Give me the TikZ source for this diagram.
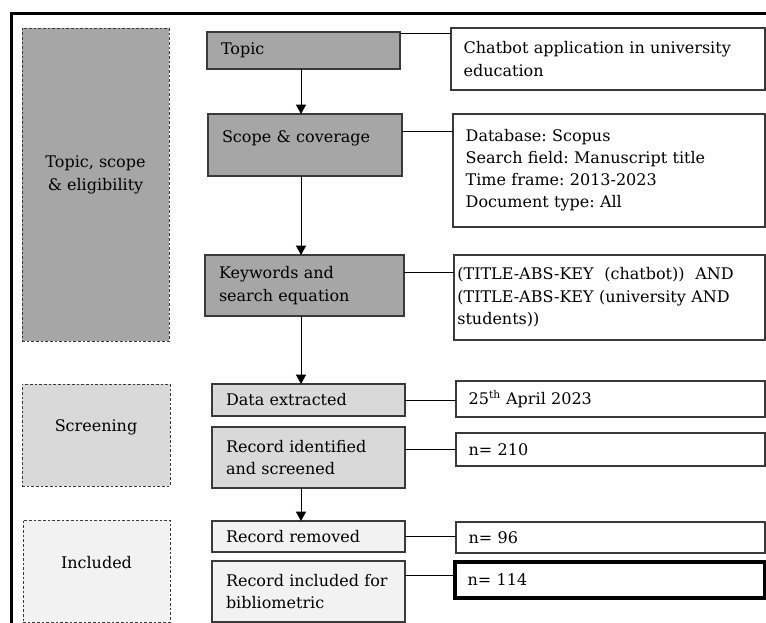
\documentclass[tikz,border=0pt]{standalone}
\usepackage{fontspec}
\setmainfont{DejaVu Serif}
\usetikzlibrary{arrows.meta,calc}
\definecolor{gA}{HTML}{A6A6A6}
\definecolor{gB}{HTML}{D9D9D9}
\definecolor{gC}{HTML}{F2F2F2}
\definecolor{edge}{HTML}{3A3A3A}
\frenchspacing
\newcommand\Pbx[7]{\node[#6, anchor=north west, minimum width={(#4-#2)*0.75pt}, minimum height={(#5-#3)*0.75pt}, text width={(#4-#2)*0.75pt-2*\pgfkeysvalueof{/pgf/inner xsep}}] (#1) at (#2,#3) {#7};}
\begin{document}
\begin{tikzpicture}[x=0.75pt,y=-0.75pt,
  every node/.style={font=\fontsize{12}{17}\selectfont\frenchspacing, outer sep=0pt},
  side/.style={draw=edge, line width=0.7pt, dash pattern=on 2pt off 1.5pt, inner sep=0pt},
  stage/.style={draw=edge, line width=0.8pt, inner xsep=10.5pt, inner ysep=0pt, align=left},
  info/.style={draw=edge, fill=white, line width=0.8pt, inner xsep=9.5pt, inner ysep=0pt, align=left},
  lbl/.style={align=center, inner sep=0pt},
  conn/.style={draw=black, line width=0.65pt},
  arr/.style={draw=black, line width=0.65pt, -{Triangle[length=7pt,width=7.5pt]}}]
\clip (0,0) rectangle (766,623);
\fill[white] (0,0) rectangle (766,623);
% outer frame
\draw[line width=1.6pt] (11.5,800) -- (11.5,13.5) -- (800,13.5);
% left stage boxes
\node[side, fill=gA, anchor=north west, minimum width={147*0.75pt}, minimum height={313*0.75pt}] (lt) at (22,28) {};
\node[side, fill=gB, anchor=north west, minimum width={148*0.75pt}, minimum height={102*0.75pt}] (ls) at (22,384) {};
\node[side, fill=gC, anchor=north west, minimum width={147*0.75pt}, minimum height={102*0.75pt}] (li) at (23,520) {};
\node[lbl] (ltT) at (95.5,175) {Topic, scope\\\& eligibility};
\node[lbl] (lsT) at (96,427) {Screening};
\node[lbl] (liT) at (96.5,563) {Included};
% centre boxes
\Pbx{topic}{207}{32}{400}{69}{stage, fill=gA}{Topic}
\Pbx{scope}{208}{114}{402}{176}{stage, fill=gA}{Scope \& coverage\\[-5pt]\mbox{}}
\Pbx{kw}{205}{255}{404}{316}{stage, fill=gA}{Keywords and\\search equation}
\Pbx{data}{212}{384}{405}{416}{stage, fill=gB}{Data extracted}
\Pbx{rid}{212}{427}{405}{488}{stage, fill=gB}{Record identified\\and screened}
\Pbx{rem}{212}{521}{405}{552}{stage, fill=gC}{Record removed}
\Pbx{inc}{212}{561}{405}{622}{stage, fill=gC}{\mbox{Record included for}\\bibliometric}
% right boxes
\Pbx{chat}{451}{28}{765}{90}{info}{\mbox{Chatbot application in university}\\education}
\Pbx{db}{453}{114}{765}{227}{info, font=\fontsize{12}{16.5}\selectfont\frenchspacing}{Database: Scopus\\\mbox{Search field: Manuscript title}\\Time frame: 2013-2023\\Document type: All}
\Pbx{ta}{454}{255}{765}{340}{info, inner xsep=2.5pt}{\makebox[229pt][s]{(TITLE-ABS-KEY\ \ (chatbot))\ \ AND}\\\makebox[229pt][s]{(TITLE-ABS-KEY (university AND}\\students))}
\Pbx{date}{456}{381}{765}{417}{info}{25\textsuperscript{th} April 2023}
\Pbx{n210}{456}{433}{765}{466}{info}{n= 210}
\Pbx{n96}{456}{522}{765}{553}{info}{n= 96}
\Pbx{n114}{455}{562}{765}{598}{info, line width=2.5pt, draw=black}{n= 114}
% arrows
\coordinate (ax) at (301,0);
\draw[arr] (topic.south -| ax) -- (scope.north -| ax);
\draw[arr] (scope.south -| ax) -- (kw.north -| ax);
\draw[arr] (kw.south -| ax) -- (data.north -| ax);
\draw[arr] (rid.south -| ax) -- (rem.north -| ax);
% connectors
\draw[conn] ([yshift=-1pt]topic.north east) -- ([yshift=-1pt]topic.north east -| chat.west);
\draw[conn] ([yshift=-12.75pt]scope.north east) -- ([yshift=-12.75pt]scope.north east -| db.west);
\draw[conn] ([yshift=-12.75pt]kw.north east) -- ([yshift=-12.75pt]kw.north east -| ta.west);
\draw[conn] (data.east) -- (data.east -| date.west);
\draw[conn] (rid.east |- n210.west) -- (n210.west);
\draw[conn] (rem.east) -- (rem.east -| n96.west);
\draw[conn] ([yshift=-11pt]inc.north east) -- ([yshift=-11pt]inc.north east -| n114.west);
\end{tikzpicture}
\end{document}
